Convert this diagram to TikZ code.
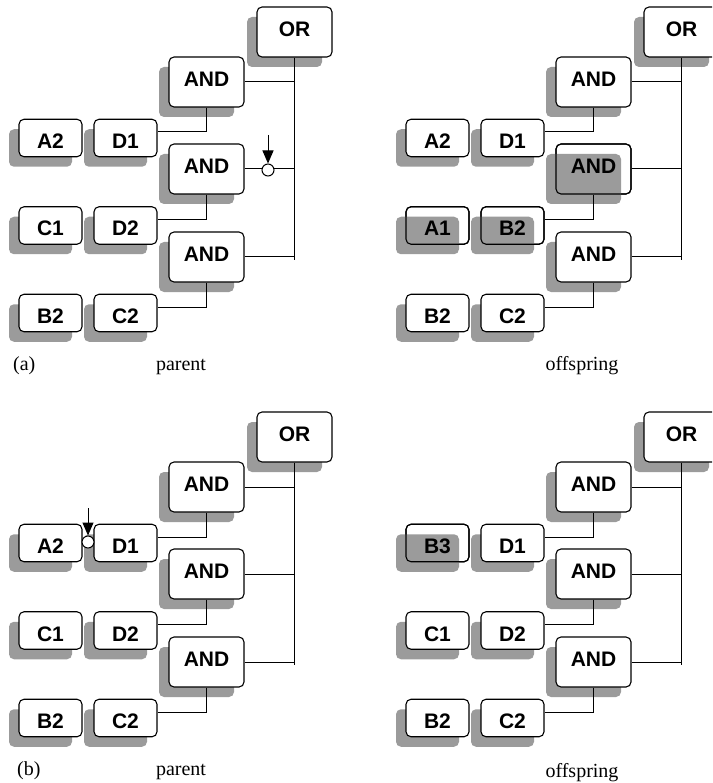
\documentclass[tikz,border=0pt]{standalone}
\usepackage{fontspec}
\setmainfont{Liberation Serif}
\newfontfamily\boxfont{Liberation Sans}
\usetikzlibrary{arrows.meta}
\definecolor{sgray}{RGB}{155,155,155}
\tikzset{
  box/.style={draw=black, line width=1.1pt, rounded corners=5pt, fill=white, inner sep=0pt,
    font={\boxfont\bfseries\fontsize{21}{25}\selectfont}},
  shad/.style={preaction={fill=sgray, draw=none, transform canvas={xshift=-10pt,yshift=-10pt}}},
  over/.style={postaction={fill=sgray, draw=none, transform canvas={xshift=-10pt,yshift=-10pt}},
    postaction={draw=black, line width=1.1pt}},
  big/.style={box, minimum width=75pt, minimum height=50pt, text height=9.8pt, text depth=0pt},
  small/.style={box, minimum width=63pt, minimum height=37.5pt, text height=21pt, text depth=0pt},
  conn/.style={line width=1pt},
  marker/.style={circle, draw=black, line width=1pt, fill=white, minimum size=12pt, inner sep=0pt},
  pointer/.style={line width=1pt, -{Triangle[length=13pt,width=11pt]}},
  caption/.style={font=\fontsize{20}{24}\selectfont, inner sep=0pt},
  sOR/.style={shad}, sA1/.style={shad}, sA2/.style={shad}, sA3/.style={shad},
  s11/.style={shad}, s12/.style={shad}, s21/.style={shad}, s22/.style={shad},
  s31/.style={shad}, s32/.style={shad}
}
\newcommand\tree[6]{%
  \node[big,sOR] (or) at (294.5,32) {OR};
  \node[big,sA1] (and1) at (206.5,82) {AND};
  \node[big,sA2] (and2) at (206.5,169) {AND};
  \node[big,sA3] (and3) at (206.5,257) {AND};
  \node[small,s11] (l11) at (50.5,138) {#1};
  \node[small,s12] (l12) at (125.5,138) {#2};
  \node[small,s21] (l21) at (50.5,225.5) {#3};
  \node[small,s22] (l22) at (125.5,225.5) {#4};
  \node[small,s31] (l31) at (50.5,313) {#5};
  \node[small,s32] (l32) at (125.5,313) {#6};
  \coordinate (orend) at (294.5,260);
  \draw[conn] (or.south) -- (orend);
  \draw[conn] (and1.east) -- (and1.east -| orend);
  \draw[conn] (and2.east) -- (and2.east -| orend);
  \draw[conn] (and3.east) -- (and3.east -| orend);
  \draw[conn] (and1.south) |- ([yshift=6pt]l12.east);
  \draw[conn] (and2.south) |- ([yshift=6pt]l22.east);
  \draw[conn] (and3.south) |- ([yshift=6pt]l32.east);
}
\begin{document}
\begin{tikzpicture}[x=1pt,y=-1pt]
\useasboundingbox (0,0) rectangle (712,783);
\clip (0,0) rectangle (712,783);
% (a) parent
\begin{scope}[name prefix=ap-]
  \tree{A2}{D1}{C1}{D2}{B2}{C2}
  \node[marker] (m) at (268,170) {};
  \coordinate (mtop) at (268,135);
  \draw[pointer] (mtop) -- (m.north);
\end{scope}
% (a) offspring
\begin{scope}[shift={(387,0)}, name prefix=ao-, sA2/.style={over}, s21/.style={over}, s22/.style={over}]
  \tree{A2}{D1}{A1}{B2}{B2}{C2}
\end{scope}
% (b) parent
\begin{scope}[shift={(0,405)}, name prefix=bp-]
  \tree{A2}{D1}{C1}{D2}{B2}{C2}
  \node[marker] (m) at (88,137) {};
  \coordinate (mtop) at (88,103);
  \draw[pointer] (mtop) -- (m.north);
\end{scope}
% (b) offspring
\begin{scope}[shift={(387,405)}, name prefix=bo-, s11/.style={over}]
  \tree{B3}{D1}{C1}{D2}{B2}{C2}
\end{scope}
\node[caption, anchor=base west] (capa) at (13,370) {(a)};
\node[caption, anchor=base] (pa) at (181,370) {parent};
\node[caption, anchor=base] (oa) at (582,370) {offspring};
\node[caption, anchor=base west] (capb) at (17,775) {(b)};
\node[caption, anchor=base] (pb) at (181,775) {parent};
\node[caption, anchor=base] (ob) at (582,777) {offspring};
\end{tikzpicture}
\end{document}
